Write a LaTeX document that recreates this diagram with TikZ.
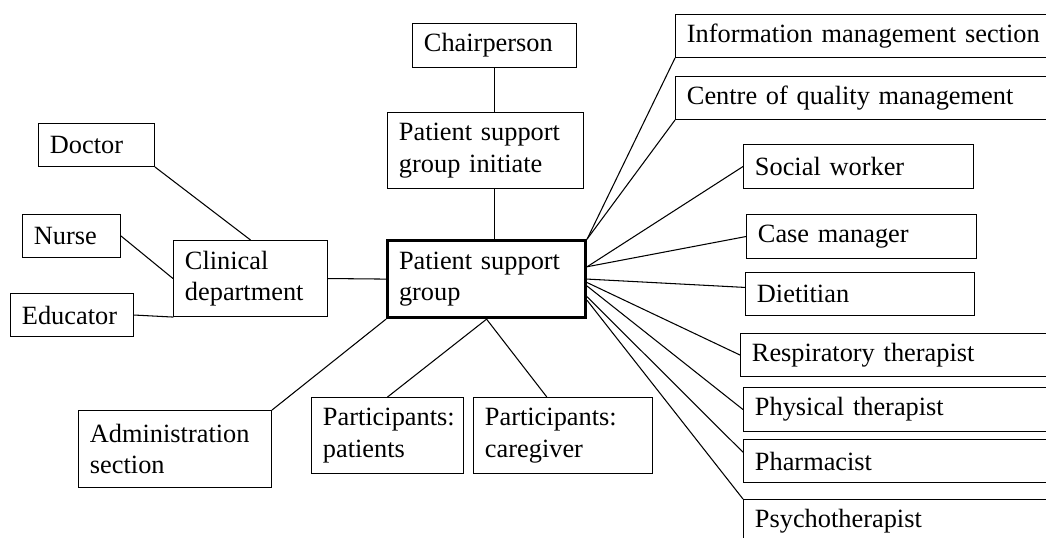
\documentclass[tikz,border=0pt]{standalone}
\usepackage{fontspec}
\setmainfont{Liberation Serif}
\usetikzlibrary{calc}

\begin{document}
\begin{tikzpicture}[
          x=0.02cm,y=-0.02cm,line cap=round,
          box/.style={draw,line width=0.6pt,anchor=north west,align=left,
                      font=\fontsize{15}{18}\selectfont,
                      inner xsep=6.5pt,inner ysep=0pt},
          sz/.style 2 args={minimum width=#1*0.02cm,text width=#1*0.02cm-13pt,
                      minimum height=#2*0.02cm},
          hub/.style={line width=1.8pt},
          link/.style={line width=0.6pt}]
        \clip (0,0) rectangle (1046,538);
        % centre and its column
        \node[box,hub,sz={198}{77}] (psg) at (386,239) {Patient support\\group};
        \node[box,sz={196}{76}] (init) at (387,112) {Patient support\\group initiate};
        \node[box,sz={164}{44}] (chair) at (412,23) {Chairperson};
        % left side
        \node[box,sz={154}{76}] (clin) at (173,240) {Clinical\\department};
        \node[box,sz={116}{43}] (doctor) at (38,123) {Doctor};
        \node[box,sz={98}{43}] (nurse) at (22,214) {Nurse};
        \node[box,sz={123}{43}] (educ) at (10,293) {Educator};
        \node[box,sz={193}{77}] (admin) at (78,410) {Administration\\section};
        % below
        \node[box,sz={152}{76}] (patients) at (311,397) {Participants:\\patients};
        \node[box,sz={179}{76}] (carer) at (473,397) {Participants:\\caregiver};
        % right side
        \node[box,sz={385}{43}] (info) at (675,14) {Information management section};
        \node[box,sz={385}{43}] (quality) at (675,76) {Centre of quality management};
        \node[box,sz={230}{44}] (social) at (743,144) {Social worker};
        \node[box,sz={230}{44}] (casemgr) at (746,214) {Case manager};
        \node[box,sz={229}{43}] (diet) at (745,272) {Dietitian};
        \node[box,sz={320}{43}] (resp) at (740,333) {Respiratory therapist};
        \node[box,sz={317}{44}] (phys) at (743,387) {Physical therapist};
        \node[box,sz={317}{43}] (pharm) at (743,439) {Pharmacist};
        \node[box,sz={317}{43}] (psycho) at (743,499) {Psychotherapist};
        % connectors
        \draw[link] (chair.south) -- (chair.south |- init.north);
        \draw[link] (chair.south |- init.south) -- (chair.south |- psg.north);
        \draw[link] (doctor.south east) -- (clin.north);
        \draw[link] (nurse.east) -- (clin.west);
        \draw[link] (educ.east) -- (clin.south west);
        \draw[link] (clin.east) -- (psg.west);
        \draw[link] (psg.south west) -- (admin.north east);
        \draw[link] (psg.south) -- (patients.north);
        \draw[link] (psg.south) -- ($(carer.north west)!0.41!(carer.north east)$);
        \draw[link] (psg.north east) -- (info.south west);
        \draw[link] (psg.north east) -- (quality.south west);
        \draw[link] (psg.7) -- (social.west);
        \draw[link] (psg.7) -- (casemgr.west);
        \draw[link] (psg.east) -- ($(diet.north west)!0.35!(diet.south west)$);
        \draw[link] (psg.-2) -- (resp.west);
        \draw[link] (psg.-4) -- (phys.west);
        \draw[link] (psg.-10) -- ($(pharm.north west)!0.3!(pharm.south west)$);
        \draw[link] (psg.-12) -- (psycho.north west);
      \end{tikzpicture}
\end{document}
